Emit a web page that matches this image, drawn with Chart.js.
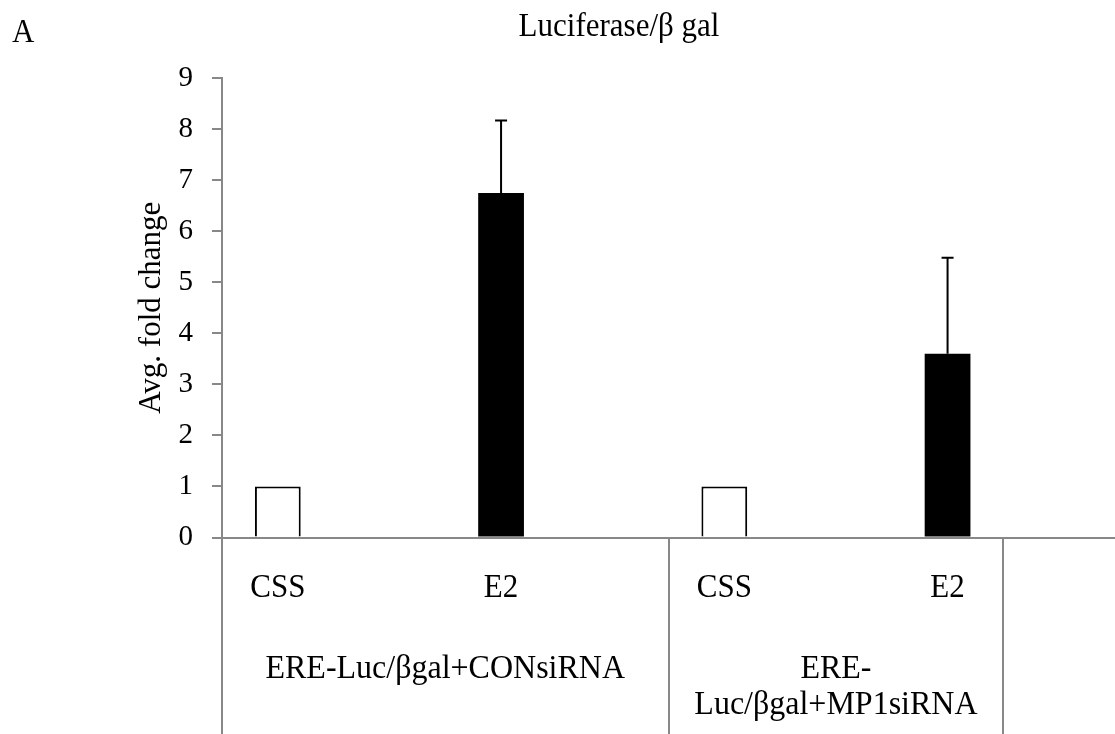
<!DOCTYPE html>
<html>
<head>
<meta charset="utf-8">
<title>Luciferase/β gal</title>
<script src="https://cdn.jsdelivr.net/npm/chart.js@4.4.1/dist/chart.umd.min.js"></script>
<style>
    body { margin: 0; background: #fff; }
    canvas { display: block; }
</style>
</head>
<body>
<canvas id="fold-chart" width="1115" height="734"></canvas>
<script>
const categories = ['CSS', 'E2', 'CSS', 'E2'];
const groupLabels = [['ERE-Luc/βgal+CONsiRNA'], ['ERE-', 'Luc/βgal+MP1siRNA']];
const foldChange = [1, 6.75, 1, 3.6];
const foldChangeSD = [0, 1.42, 0, 1.88];
const yTickLabels = ['0', '1', '2', '3', '4', '5', '6', '7', '8', '9'];

const chartTitle = 'Luciferase/β gal';
const panelLetter = 'A';
const yTitle = 'Avg. fold change';

const serif = 'Liberation Serif';
const axisGray = '#888888';

// error bars on top of the bars
const errorBars = {
    id: 'errorBars',
    afterDatasetsDraw(chart) {
        const ctx = chart.ctx;
        const meta = chart.getDatasetMeta(0);
        const y = chart.scales.y;
        ctx.save();
        ctx.strokeStyle = '#000';
        ctx.lineWidth = 2;
        meta.data.forEach((bar, i) => {
            if (!foldChangeSD[i]) return;
            const top = y.getPixelForValue(foldChange[i] + foldChangeSD[i]);
            ctx.beginPath();
            ctx.moveTo(bar.x, bar.y);
            ctx.lineTo(bar.x, top);
            ctx.moveTo(bar.x - 6, top);
            ctx.lineTo(bar.x + 6, top);
            ctx.stroke();
        });
        ctx.restore();
    }
};

function drawText(ctx, text, x, y) {
    // the source figure's lettering is a little taller than it is wide
    ctx.save();
    ctx.translate(x, y);
    ctx.scale(1, 1.06);
    ctx.fillText(text, 0, 0);
    ctx.restore();
}

// multi level category labels, dividers, title
const decorations = {
    id: 'decorations',
    afterDraw(chart) {
        const ctx = chart.ctx;
        const x = chart.scales.x;
        const area = chart.chartArea;
        const meta = chart.getDatasetMeta(0);
        const bottom = chart.height;

        ctx.save();
        ctx.strokeStyle = axisGray;
        ctx.lineWidth = 2;
        const dividers = [x.left, x.getPixelForValue(1.5), x.getPixelForValue(3)];
        dividers.forEach(px => {
            ctx.beginPath();
            ctx.moveTo(Math.round(px), area.bottom);
            ctx.lineTo(Math.round(px), bottom);
            ctx.stroke();
        });

        ctx.fillStyle = '#000';
        ctx.font = '31px "' + serif + '"';
        ctx.textAlign = 'center';
        ctx.textBaseline = 'alphabetic';
        meta.data.forEach((bar, i) => {
            drawText(ctx, categories[i], bar.x, 597);
        });

        ctx.font = '32px "' + serif + '"';
        groupLabels.forEach((lines, g) => {
            const cx = (dividers[g] + dividers[g + 1]) / 2;
            lines.forEach((line, k) => {
                drawText(ctx, line, cx, 678 + k * 36);
            });
        });

        ctx.font = '31px "' + serif + '"';
        ctx.textAlign = 'left';
        drawText(ctx, panelLetter, 12, 42);
        ctx.textAlign = 'center';
        drawText(ctx, chartTitle, 619, 36);
        ctx.restore();
    }
};

const ctx = document.getElementById('fold-chart').getContext('2d');
const chart = new Chart(ctx, {
    type: 'bar',
    data: {
        labels: categories,
        datasets: [{
            label: 'Avg. fold change',
            data: foldChange,
            backgroundColor: categories.map(c => c === 'CSS' ? '#ffffff' : '#000000'),
            borderColor: '#000000',
            borderWidth: categories.map(c => c === 'CSS' ? 2 : 0),
            barPercentage: 0.41,
            categoryPercentage: 1
        }, {
            // empty slot so each bar sits on the left half of its category
            label: '',
            data: categories.map(() => null),
            barPercentage: 0.41,
            categoryPercentage: 1
        }]
    },
    options: {
        responsive: false,
        devicePixelRatio: 1,
        animation: false,
        layout: {
            padding: { top: 78, right: 0, bottom: 0, left: 0 }
        },
        plugins: {
            legend: { display: false },
            tooltip: { enabled: false }
        },
        scales: {
            x: {
                type: 'category',
                ticks: { display: false },
                grid: { display: false },
                border: { display: true, color: axisGray, width: 2 },
                afterFit(scale) {
                    scale.height = 196.5;
                }
            },
            y: {
                min: 0,
                max: 9,
                ticks: {
                    stepSize: 1,
                    padding: 19,
                    color: '#000',
                    font: { family: serif, size: 29 },
                    callback: (value) => yTickLabels[value]
                },
                grid: {
                    drawOnChartArea: false,
                    drawTicks: true,
                    tickLength: 10,
                    color: axisGray,
                    lineWidth: 2
                },
                border: { display: true, color: axisGray, width: 2 },
                title: {
                    display: true,
                    text: yTitle,
                    color: '#000',
                    font: { family: serif, size: 31 },
                    padding: { top: 133, bottom: 0 }
                },
                afterFit(scale) {
                    scale.width = 222;
                }
            }
        }
    },
    plugins: [errorBars, decorations]
});
</script>
</body>
</html>
